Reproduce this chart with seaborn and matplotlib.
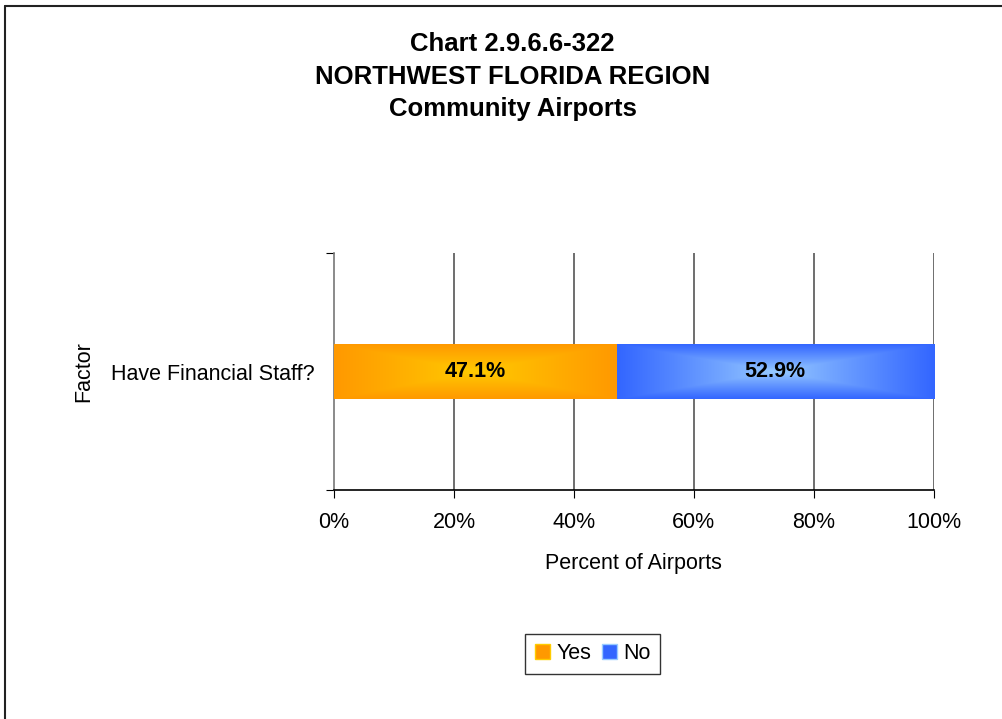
import numpy as np
import pandas as pd
import matplotlib
matplotlib.use("Agg")
import matplotlib.pyplot as plt
import seaborn as sns
from matplotlib.patches import Patch
from matplotlib.lines import Line2D
from matplotlib.colors import to_rgb

# ---------------- DATA ----------------
factors = ["Have Financial Staff?"]
answers = ["Yes", "No"]
yes_pct = [47.1]
no_pct = [52.9]
x_ticks = [0, 20, 40, 60, 80, 100]

edge_colors = {"Yes": "#FF9900", "No": "#3366FF"}
center_colors = {"Yes": "#FFCC00", "No": "#99CCFF"}

df = pd.DataFrame({"factor": factors, "Yes": yes_pct, "No": no_pct})
df["cum"] = df["Yes"] + df["No"]

# ---------------- STYLE ----------------
sns.set_style("white")
plt.rcParams["font.family"] = ["Liberation Sans", "DejaVu Sans"]
plt.rcParams["text.color"] = "black"
plt.rcParams["axes.labelcolor"] = "black"
plt.rcParams["xtick.color"] = "black"
plt.rcParams["ytick.color"] = "black"

FS = 15.5

fig = plt.figure(figsize=(10.03, 7.19), dpi=100)
ax = fig.add_axes([0.333, 0.3185, 0.598, 0.3295])

# stacked bars: total first, first segment on top
sns.barplot(data=df, x="cum", y="factor", color=edge_colors["No"], width=0.228,
            orient="h", ax=ax, zorder=2)
sns.barplot(data=df, x="Yes", y="factor", color=edge_colors["Yes"], width=0.228,
            orient="h", ax=ax, zorder=3)

# box gradient from the centre of each bar
def box_gradient(c_center, c_edge, n=200):
    xs = np.linspace(-1, 1, n)
    X, Y = np.meshgrid(xs, xs)
    t = np.clip(np.maximum(np.abs(X), np.abs(Y)), 0, 1) ** 0.9
    c0 = np.array(to_rgb(c_center))
    c1 = np.array(to_rgb(c_edge))
    return c0[None, None, :] * (1 - t[..., None]) + c1[None, None, :] * t[..., None]

segments = []
for container, name in zip(ax.containers, ["No", "Yes"]):
    for p in container:
        segments.append((p, name))

for p, name in segments:
    x0, w = p.get_x(), p.get_width()
    y0, h = p.get_y(), p.get_height()
    if name == "No":
        x0 = df["Yes"].iloc[0]
        w = df["No"].iloc[0]
    ax.imshow(box_gradient(center_colors[name], edge_colors[name]),
              extent=[x0, x0 + w, y0 + h, y0], aspect="auto",
              zorder=p.get_zorder() + 0.5, interpolation="bilinear")
    p.set_linewidth(0)

ax.set_xlim(0, 100)
ax.set_ylim(0.5, -0.5)

# value labels
ax.text(yes_pct[0] / 2, 0, f"{yes_pct[0]:.1f}%", ha="center", va="center",
        fontsize=15.5, fontweight="bold", zorder=10)
ax.text(yes_pct[0] + no_pct[0] / 2, 0, f"{no_pct[0]:.1f}%", ha="center", va="center",
        fontsize=15.5, fontweight="bold", zorder=10)

# grid + axes
ax.set_xticks(x_ticks)
ax.set_xticklabels([f"{v}%" for v in x_ticks], fontsize=FS)
for v in x_ticks[1:]:
    ax.axvline(v, color="#555555", lw=1.2, zorder=1)
ax.set_yticks([-0.5, 0.5], minor=False)
ax.set_yticklabels(["", ""])
ax.set_yticks([0], minor=True)
ax.set_yticklabels(factors, minor=True, fontsize=FS)
ax.tick_params(axis="y", which="minor", length=0, pad=14)
ax.tick_params(axis="y", which="major", length=6, direction="out", left=True)
ax.tick_params(axis="x", length=6, direction="out", bottom=True, pad=10)

for s in ["top", "right"]:
    ax.spines[s].set_visible(False)
ax.spines["left"].set_color("#777777")
ax.spines["left"].set_linewidth(1.2)
ax.spines["bottom"].set_color("black")
ax.spines["bottom"].set_linewidth(1.2)

ax.set_xlabel("Percent of Airports", fontsize=FS, labelpad=14)
ax.set_ylabel("Factor", fontsize=FS, labelpad=12)

# title
fig.text(0.511, 0.956, "Chart 2.9.6.6-322\nNORTHWEST FLORIDA REGION\nCommunity Airports",
         ha="center", va="top", fontsize=18.5, fontweight="bold", linespacing=1.47)

# legend
handles = [Patch(facecolor=edge_colors[a], edgecolor=center_colors[a]) for a in answers]
fig.legend(handles, answers, loc="center", bbox_to_anchor=(0.591, 0.0905), ncol=2,
           frameon=True, fancybox=False, edgecolor="black", fontsize=FS,
           handlelength=0.7, handleheight=0.7, handletextpad=0.3, columnspacing=0.5,
           borderpad=0.45, borderaxespad=0.3)

# outer frame (left and top edges visible)
fig.add_artist(Line2D([0.005, 0.005], [0, 0.992], color="#222222", lw=1.5))
fig.add_artist(Line2D([0.005, 1.0], [0.992, 0.992], color="#222222", lw=1.5))

fig.savefig("out.png", dpi=100)
